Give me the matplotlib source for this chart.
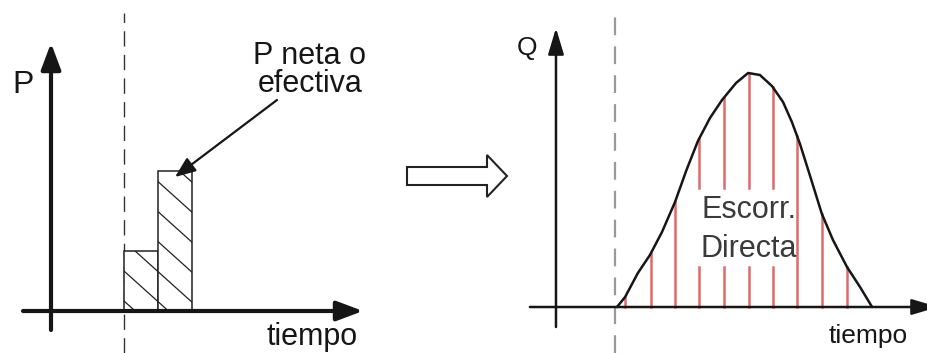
import numpy as np
import matplotlib.pyplot as plt
from matplotlib.patches import FancyArrow

plt.rcParams['font.family'] = ['Liberation Sans', 'DejaVu Sans']

# left panel: net (effective) rainfall blocks
p_times = [0, 1]
p_values = [3.0, 7.0]

# right panel: direct runoff hydrograph
q_times = [0.04, 0.37, 0.89, 1.38, 1.87, 2.40, 2.85, 3.33, 3.82, 4.31, 4.88,
           5.37, 5.85, 6.34, 6.79, 7.15, 7.48, 7.89, 8.37, 8.82, 9.39, 9.92, 10.41]
q_values = [0.0, 1.0, 3.4, 5.2, 7.5, 10.5, 13.6, 16.6, 18.9, 20.7, 22.4,
            23.4, 23.2, 22.1, 20.5, 18.5, 16.3, 13.1, 9.3, 6.7, 4.0, 2.0, 0.0]
# red ordinates under the hydrograph
ord_times = [0.37, 1.42, 2.40, 3.37, 4.39, 5.41, 6.38, 7.36, 8.37, 9.39]

INK = '#161616'


def axis_arrow(ax, start, end, lw, ms, hw):
    ax.annotate('', xy=end, xytext=start, annotation_clip=False,
                arrowprops=dict(arrowstyle=f'-|>,head_length=0.4,head_width={hw}',
                                lw=lw, color=INK, mutation_scale=ms,
                                shrinkA=0, shrinkB=0))


fig = plt.figure(figsize=(9.28, 3.53), dpi=100)

# ---- left: hyetograph
axl = fig.add_axes([0, 0, 400 / 928, 1])
axl.set_xlim(-124 / 34, 276 / 34)
axl.set_ylim(-42 / 20, 311 / 20)
axl.axis('off')

bars = axl.bar(p_times, p_values, width=1, align='edge', color='white',
               edgecolor='#222222', lw=1.1, zorder=2)
for b in bars:
    for c in np.arange(-1.0, 14.0, 1.5):
        ln, = axl.plot([-1, 3], [c + 1.53, c - 1.53 * 3], color='#222222',
                       lw=0.9, zorder=3)
        ln.set_clip_path(b)

axl.plot([0, 0], [-2.1, 14.9], color='#333333', lw=1.0, dashes=(11, 6), zorder=1)
axis_arrow(axl, (-2.147, -0.95), (-2.147, 13.4), 3.0, 40, 0.15)
axis_arrow(axl, (-2.97, 0), (7.03, 0), 3.0, 40, 0.15)

axl.annotate('', xy=(1.5, 6.7), xytext=(4.5, 10.55),
             arrowprops=dict(arrowstyle='-|>,head_length=0.5,head_width=0.2',
                             lw=1.6, color=INK, mutation_scale=25,
                             shrinkA=0, shrinkB=0))
axl.text(-2.97, 11.3, 'P', fontsize=23, ha='center', va='center', color=INK)
axl.text(5.47, 12.05, 'P neta o\nefectiva', fontsize=22, ha='center',
         va='center', linespacing=0.95, color=INK)
axl.text(5.53, -1.68, 'tiempo', fontsize=22, ha='center', va='baseline', color=INK)

# ---- right: hydrograph
axr = fig.add_axes([400 / 928, 0, 528 / 928, 1])
axr.set_xlim((400 - 616) / 24.6, (928 - 616) / 24.6)
axr.set_ylim(-4.6, 30.7)
axr.axis('off')

ord_heights = np.interp(ord_times, q_times, q_values)
for t, h in zip(ord_times, ord_heights):
    if 3 < t < 7:
        axr.plot([t, t], [0, 4.0], color='#e06a6a', lw=1.8, zorder=2)
        axr.plot([t, t], [11.9, h], color='#e06a6a', lw=1.8, zorder=2)
    else:
        axr.plot([t, t], [0, h], color='#e06a6a', lw=1.8, zorder=2)

axr.plot(q_times, q_values, color=INK, lw=1.8, zorder=4,
         solid_joinstyle='round', solid_capstyle='round')
axr.plot([-0.04, -0.04], [-4.6, 29.4], color='#999999', lw=1.6, dashes=(8, 5), zorder=1)
axis_arrow(axr, (-2.44, -2.0), (-2.44, 27.9), 1.8, 40, 0.12)
axis_arrow(axr, (-3.5, 0), (13.09, 0), 1.8, 40, 0.12)

axr.text(-3.62, 25.9, 'Q', fontsize=19, ha='center', va='center', color=INK)
axr.text(5.41, 8.9, 'Escorr.', fontsize=22, ha='center', va='baseline', color='#3a3a3a')
axr.text(5.41, 5.0, 'Directa', fontsize=22, ha='center', va='baseline', color='#3a3a3a')
axr.text(10.24, -3.6, 'tiempo', fontsize=19, ha='center', va='baseline', color=INK)

# hollow arrow between the panels
fig.add_artist(FancyArrow(407 / 928, 177 / 353, 100 / 928, 0, width=18 / 353,
                          head_width=42 / 353, head_length=20 / 928,
                          length_includes_head=True, transform=fig.transFigure,
                          fc='white', ec='#222222', lw=1.5))

fig.savefig('out.png', dpi=100)
